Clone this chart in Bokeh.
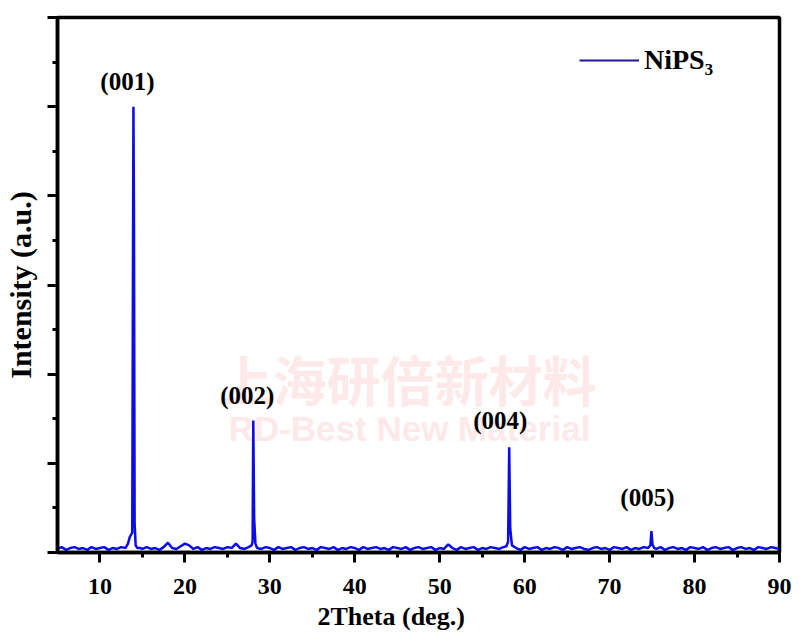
from bokeh.plotting import figure
from bokeh.models import Range1d, FixedTicker, Label, Legend, LegendItem, ColumnDataSource, Title
from bokeh.embed import file_html
from bokeh.resources import INLINE

# ---- data ----
two_theta = [
    5.0, 5.5, 6.0, 6.5, 7.0, 7.5, 8.0, 8.5, 9.0, 9.5, 10.0, 10.5, 11.0, 11.5, 12.0, 12.5, 13.0,
    13.3, 13.5, 13.65, 13.8, 13.88, 13.94, 14.0, 14.08, 14.2, 14.4,
    14.7, 15.0, 15.5, 16.0, 16.5, 17.0, 17.5, 18.0, 18.5, 19.0, 19.5, 20.0, 20.5, 21.0,
    21.5, 22.0, 22.5, 23.0, 23.5, 24.0, 24.5, 25.0, 25.5, 26.0, 26.5, 27.0, 27.5,
    27.85, 27.97, 28.05, 28.15, 28.3, 28.5,
    29.0, 29.5, 30.0, 30.5, 31.0, 31.5, 32.0, 32.5, 33.0, 33.5,
    34.0, 34.5, 35.0, 35.5, 36.0, 36.5, 37.0, 37.5, 38.0, 38.5,
    39.0, 39.5, 40.0, 40.5, 41.0, 41.5, 42.0, 42.5, 43.0, 43.5,
    44.0, 44.5, 45.0, 45.5, 46.0, 46.5, 47.0, 47.5, 48.0, 48.5,
    49.0, 49.5, 50.0, 50.5, 51.0, 51.5, 52.0, 52.5, 53.0, 53.5,
    54.0, 54.5, 55.0, 55.5, 56.0, 56.5, 57.0, 57.5,
    57.85, 58.05, 58.18, 58.3, 58.5,
    59.0, 59.5, 60.0, 60.5, 61.0, 61.5, 62.0, 62.5, 63.0, 63.5,
    64.0, 64.5, 65.0, 65.5, 66.0, 66.5, 67.0, 67.5, 68.0, 68.5,
    69.0, 69.5, 70.0, 70.5, 71.0, 71.5, 72.0, 72.5, 73.0, 73.5,
    74.0, 74.5,
    74.8, 74.92, 75.05, 75.25,
    75.5, 76.0, 76.5, 77.0, 77.5, 78.0, 78.5, 79.0, 79.5, 80.0,
    80.5, 81.0, 81.5, 82.0, 82.5, 83.0, 83.5, 84.0, 84.5, 85.0,
    85.5, 86.0, 86.5, 87.0, 87.5, 88.0, 88.5, 89.0, 89.5, 90.0,
]
intensity = [
    0.04, 0.06, 0.03, 0.05, 0.06, 0.04, 0.05, 0.03, 0.06, 0.04, 0.05, 0.06, 0.03, 0.05, 0.04, 0.06, 0.05,
    0.10, 0.17, 0.20, 0.22, 3.06, 5.00, 3.88, 0.33, 0.08, 0.05,
    0.05, 0.04, 0.06, 0.04, 0.05, 0.03, 0.06, 0.11, 0.05, 0.04, 0.07, 0.10, 0.08, 0.04,
    0.06, 0.03, 0.05, 0.04, 0.06, 0.05, 0.04, 0.06, 0.05, 0.10, 0.05, 0.04, 0.06,
    0.08, 0.12, 1.48, 0.39, 0.10, 0.05,
    0.04, 0.06, 0.05, 0.03, 0.06, 0.04, 0.05, 0.06, 0.03, 0.05,
    0.06, 0.04, 0.05, 0.03, 0.06, 0.05, 0.04, 0.06, 0.03, 0.05,
    0.04, 0.06, 0.05, 0.03, 0.06, 0.04, 0.05, 0.06, 0.04, 0.05,
    0.03, 0.06, 0.05, 0.04, 0.06, 0.03, 0.05, 0.06, 0.04, 0.05,
    0.06, 0.03, 0.05, 0.04, 0.09, 0.05, 0.03, 0.06, 0.04, 0.05,
    0.06, 0.03, 0.05, 0.04, 0.06, 0.05, 0.04, 0.06,
    0.07, 0.12, 1.18, 0.27, 0.08,
    0.05, 0.03, 0.06, 0.04, 0.05, 0.06, 0.03, 0.05, 0.04, 0.06,
    0.05, 0.03, 0.06, 0.04, 0.05, 0.06, 0.04, 0.03, 0.05, 0.06,
    0.04, 0.05, 0.03, 0.06, 0.05, 0.04, 0.06, 0.03, 0.05, 0.04,
    0.06, 0.05,
    0.08, 0.24, 0.09, 0.05,
    0.04, 0.06, 0.03, 0.05, 0.06, 0.04, 0.05, 0.03, 0.06, 0.05,
    0.04, 0.06, 0.03, 0.05, 0.06, 0.04, 0.05, 0.06, 0.03, 0.05,
    0.06, 0.04, 0.05, 0.03, 0.06, 0.05, 0.04, 0.06, 0.05, 0.04,
]
peak_labels = ["(001)", "(002)", "(004)", "(005)"]
peak_2theta = [13.94, 28.05, 58.18, 74.92]
peak_height = [5.00, 1.48, 1.18, 0.24]
x_ticks = [10, 20, 30, 40, 50, 60, 70, 80, 90]
x_minor_ticks = [15, 25, 35, 45, 55, 65, 75, 85]
y_ticks = [0, 1, 2, 3, 4, 5, 6]
y_minor_ticks = [0.5, 1.5, 2.5, 3.5, 4.5, 5.5]
series_name = "NiPS\u2083"
x_title = "2Theta (deg.)"
y_title = "Intensity (a.u.)"

# ---- styling ----
label_dx_px = [-6, -6, -9, -4]
label_dy_px = [-25, -25, -27, -34]
SERIF = "Liberation Serif"

p = figure(frame_width=722, frame_height=535,
           x_range=Range1d(5, 90), y_range=Range1d(0, 6),
           output_backend="svg", toolbar_location=None,
           min_border_left=55, min_border_right=15,
           min_border_top=17, min_border_bottom=70)
p.grid.visible = False
p.background_fill_color = "white"
p.border_fill_color = "white"
p.outline_line_color = "black"
p.outline_line_width = 3.5

# watermark
wm1 = Label(x=350, y=174, x_units="screen", y_units="screen", text="上海研倍新材料",
            text_font="Noto Sans CJK SC", text_font_style="bold", text_font_size="54px",
            text_color="#fde9e9", text_align="center", text_baseline="middle", level="underlay")
wm2 = Label(x=352, y=124, x_units="screen", y_units="screen", text="RD-Best New Material",
            text_font="Liberation Sans", text_font_style="bold", text_font_size="35px",
            text_color="#fde9e9", text_align="center", text_baseline="middle", level="underlay")
p.add_layout(wm1)
p.add_layout(wm2)

src = ColumnDataSource(dict(x=two_theta, y=intensity))
r = p.line("x", "y", source=src, line_color="#0c0ce8", line_width=2.5)

lbl_src = ColumnDataSource(dict(x=peak_2theta, y=peak_height, t=peak_labels,
                                dx=label_dx_px, dy=label_dy_px))
p.text("x", "y", text="t", source=lbl_src, x_offset="dx", y_offset="dy",
       text_font=SERIF, text_font_style="bold", text_font_size="25px",
       text_color="black", text_align="center", text_baseline="middle")

# legend (navy line sample)
r_leg = p.line(x=[float("nan")], y=[float("nan")], line_color="#1c1c8c", line_width=2)
leg = Legend(items=[LegendItem(label=series_name, renderers=[r_leg])],
             location=(522, 476), glyph_width=60, glyph_height=26, label_height=26,
             label_standoff=5, padding=0, margin=0, spacing=0,
             border_line_color=None, background_fill_alpha=0,
             label_text_font=SERIF, label_text_font_style="bold",
             label_text_font_size="28px", label_text_color="black")
p.add_layout(leg)

# axes
xa = p.xaxis[0]
xa.ticker = FixedTicker(ticks=x_ticks, minor_ticks=x_minor_ticks)
xa.axis_line_width = 3.5
xa.major_tick_line_width = 3
xa.minor_tick_line_width = 3
xa.major_tick_out = 10
xa.major_tick_in = 0
xa.minor_tick_out = 5
xa.minor_tick_in = 0
xa.major_label_standoff = 16
xa.major_label_text_font = SERIF
xa.major_label_text_font_style = "bold"
xa.major_label_text_font_size = "24px"
xa.major_label_text_color = "black"

ya = p.yaxis[0]
ya.ticker = FixedTicker(ticks=y_ticks, minor_ticks=y_minor_ticks)
ya.axis_line_width = 3.5
ya.major_tick_line_width = 3
ya.minor_tick_line_width = 3
ya.major_tick_out = 10
ya.major_tick_in = 0
ya.minor_tick_out = 5
ya.minor_tick_in = 0
ya.major_label_overrides = {float(t): "" for t in y_ticks}
ya.major_label_text_font_size = "10px"
ya.major_label_standoff = 0
ya.axis_label = y_title
ya.axis_label_standoff = 11
ya.axis_label_text_font = SERIF
ya.axis_label_text_font_style = "bold"
ya.axis_label_text_font_size = "30px"
ya.axis_label_text_color = "black"

xt = Title(text=x_title, align="left", offset=260, standoff=6,
           text_font=SERIF, text_font_style="bold", text_font_size="26px",
           text_color="black")
p.add_layout(xt, "below")

open("out.html", "w").write(file_html(p, INLINE))
